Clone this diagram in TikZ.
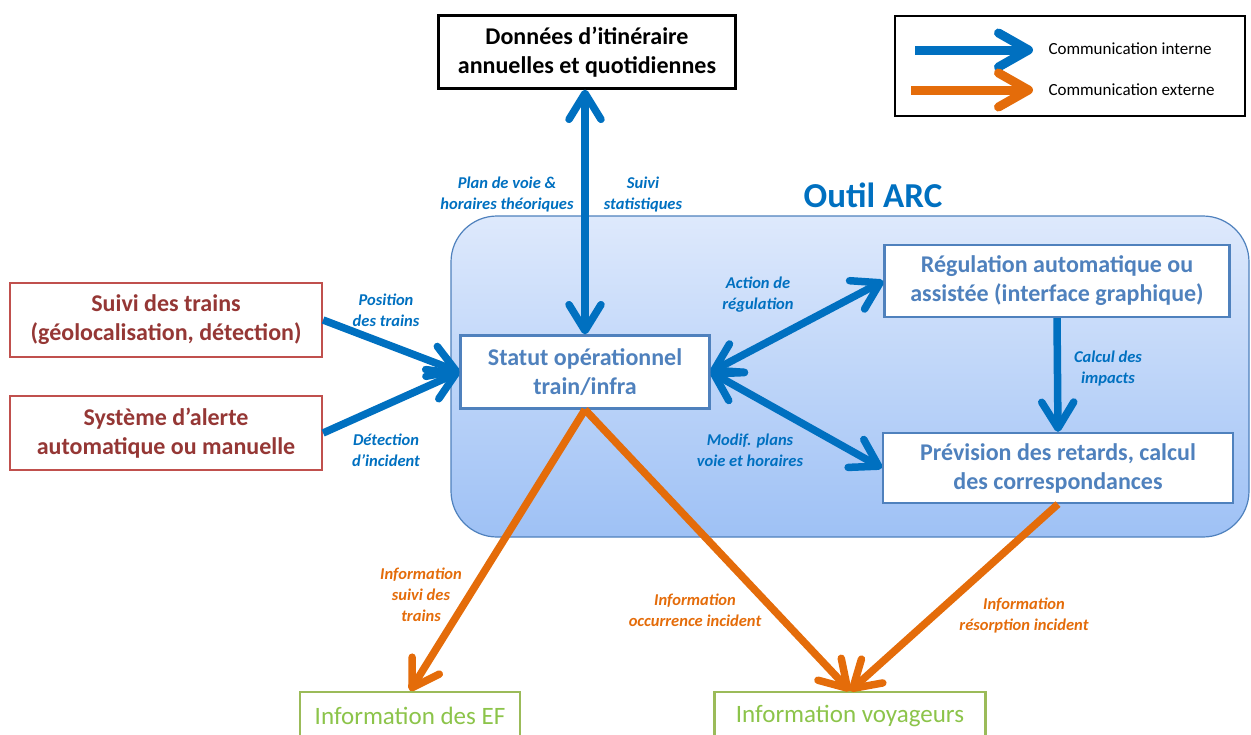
\documentclass[tikz,border=0pt]{standalone}
\usepackage{fontspec}
\setmainfont{Carlito}
\usetikzlibrary{arrows.meta}
\definecolor{cblue}{RGB}{0,112,192}
\definecolor{corange}{RGB}{228,108,10}
\definecolor{cslate}{RGB}{79,129,189}
\definecolor{cred}{RGB}{192,80,77}
\definecolor{cdred}{RGB}{149,55,53}
\definecolor{cgreen}{RGB}{155,187,89}
\definecolor{cgtext}{RGB}{140,196,74}
\definecolor{ctop}{RGB}{222,233,252}
\definecolor{cbot}{RGB}{158,193,245}
\tikzset{
  box/.style={draw, line width=2.2pt, fill=white, align=center, font=\bfseries\fontsize{24}{29}\selectfont, inner sep=0pt},
  bluebox/.style={box, draw=cslate, text=cslate},
  redbox/.style={box, draw=cred, text=cdred},
  greenbox/.style={box, draw=cgreen, text=cgtext, font=\fontsize{25}{29}\selectfont},
  lbl/.style={align=center, font=\bfseries\itshape\fontsize{16.5}{21}\selectfont, inner sep=0pt},
  blbl/.style={lbl, text=cblue},
  olbl/.style={lbl, text=corange},
  barb/.tip={Straight Barb[length=26pt,width=32pt,round]},
  barrow/.style={draw=cblue, line width=7.5pt, -barb},
  bdarrow/.style={draw=cblue, line width=7.5pt, barb-barb},
  oarrow/.style={draw=corange, line width=7.5pt, -barb},
}
\begin{document}
\begin{tikzpicture}[x=1pt,y=-1pt]
\useasboundingbox (0,0) rectangle (1251,734);
% big rounded container
\draw[cslate, line width=1.2pt, top color=ctop, bottom color=cbot, rounded corners=46pt] (451,216) rectangle (1249,537);
\node[font=\bfseries\fontsize{35}{37}\selectfont, text=cblue] (arc) at (873,195) {Outil ARC};
% nodes
\node[box, draw=black, minimum width=297pt, minimum height=73pt] (don) at (587,52) {Données d’itinéraire\\annuelles et quotidiennes};
\node[draw=black, line width=2pt, minimum width=350pt, minimum height=100pt, inner sep=0pt] (leg) at (1070,66) {};
\node[bluebox, minimum width=249pt, minimum height=73pt] (stat) at (585,372) {Statut opérationnel\\train/infra};
\node[bluebox, minimum width=345pt, minimum height=72pt] (reg) at (1057,281) {Régulation automatique ou\\assistée (interface graphique)};
\node[bluebox, minimum width=350pt, minimum height=70pt] (prev) at (1058,468) {Prévision des retards, calcul\\des correspondances};
\node[redbox, minimum width=312pt, minimum height=74pt] (suivi) at (166,320) {Suivi des trains\\(géolocalisation, détection)};
\node[redbox, minimum width=312pt, minimum height=74pt] (alerte) at (166,433) {Système d’alerte\\automatique ou manuelle};
\node[greenbox, minimum width=220pt, minimum height=48pt] (ef) at (410,716) {Information des EF};
\node[greenbox, minimum width=271pt, minimum height=48pt] (voy) at (850,716) {Information voyageurs};
% legend
\coordinate (l1a) at (915,50); \coordinate (l1b) at (1033,50);
\coordinate (l2a) at (911,90); \coordinate (l2b) at (1033,90);
\draw[draw=cblue, line width=9pt, -{Straight Barb[length=30pt,width=34pt,round]}] (l1a) -- (l1b);
\draw[draw=corange, line width=9pt, -{Straight Barb[length=30pt,width=34pt,round]}] (l2a) -- (l2b);
\node[anchor=west, font=\fontsize{17}{19}\selectfont] (li) at (1045,49) {Communication interne};
\node[anchor=west, font=\fontsize{17}{19}\selectfont] (le) at (1045,90) {Communication externe};
% connectors
\draw[bdarrow] (don.south -| stat.north) -- (stat.north);
\draw[barrow] (suivi.east) -- (stat.west);
\draw[barrow] (alerte.east) -- (stat.west);
\draw[bdarrow] (stat.east) -- (reg.west);
\draw[bdarrow] (stat.east) -- (prev.west);
\draw[barrow] (reg.south) -- (prev.north);
\draw[oarrow] (stat.south) -- (ef.north);
\draw[oarrow] (stat.south) -- (voy.north);
\draw[oarrow] (prev.south) -- (voy.north);
% labels
\node[blbl] (t1) at (507,195) {Plan de voie \&\\horaires théoriques};
\node[blbl] (t2) at (643,195) {Suivi\\statistiques};
\node[blbl] (t3) at (386,310) {Position\\des trains};
\node[blbl] (t4) at (386,450) {Détection\\d’incident};
\node[blbl] (t5) at (758,295) {Action de\\régulation};
\node[blbl] (t6) at (750,450) {Modif. plans\\voie et horaires};
\node[blbl] (t7) at (1108,369) {Calcul des\\impacts};
\node[olbl] (t8) at (421,595) {Information\\suivi des\\trains};
\node[olbl] (t9) at (695,610) {Information\\occurrence incident};
\node[olbl] (t10) at (1024,615) {Information\\résorption incident};
\end{tikzpicture}
\end{document}
